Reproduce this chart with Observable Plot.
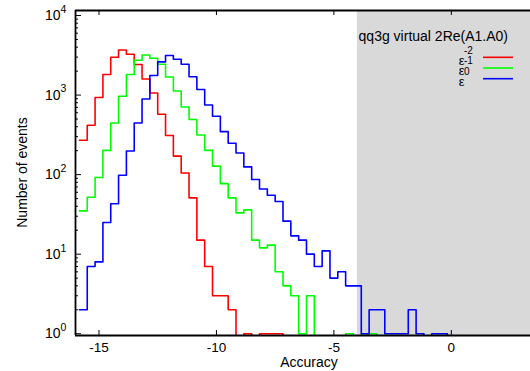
<!DOCTYPE html>
<html><head><meta charset="utf-8">
<script src="https://cdn.jsdelivr.net/npm/d3@7"></script>
<script src="https://cdn.jsdelivr.net/npm/@observablehq/plot@0.6"></script>
<style>body{margin:0;background:#fff} svg{display:block}</style>
</head><body><div id="chart"></div>
<script>
// ---- data ----
const binStart = -15.8333;
const binWidth = 1 / 3;
const redCounts   = [270, 417, 930, 1810, 2990, 3690, 3260, 2420, 1595, 1063, 573, 310, 171, 105, 51, 15, 7, 3, 3, 2, 0, 1, 0, 1, 1, 1, 0];
const greenCounts = [35, 52, 92, 202, 446, 966, 1810, 2740, 3190, 2900, 2440, 1690, 1127, 708, 492, 315, 202, 128, 77, 51, 33, 36, 15, 12, 13, 6, 4, 3, 1, 3, 0, 0, 0, 0, 1, 0, 1, 1, 0];
const blueCounts  = [2, 7, 8, 25, 43, 98, 198, 446, 893, 1760, 2610, 3140, 2820, 2440, 1700, 1173, 750, 541, 347, 248, 187, 125, 87, 66, 55, 46, 26, 17, 15, 10, 7, 11, 5, 6, 4, 4, 1, 2, 2, 1, 1, 1, 2, 1, 0, 1, 1, 0];
const seriesNames = ["eps-2", "eps-1", "eps0"];
const seriesColors = ["#ff0000", "#00ff00", "#0000ff"];
const legendExponents = ["-2", "-1", "0"];
const xTicks = [-15, -10, -5, 0];
const yTicks = [1, 10, 100, 1000, 10000];
const yTickExponents = ["0", "1", "2", "3", "4"];
const xDomain = [-16, 3.37];
const yDomain = [0.95, 11560];
const shadeFrom = -4;
const titleText = "qq3g virtual 2Re(A1.A0)";
const xLabel = "Accuracy";
const yLabel = "Number of events";

// ---- build ----
const yFloor = 0.3; // empty bins drawn below the axis (clipped)
const rows = [];
[redCounts, greenCounts, blueCounts].forEach((counts, s) => {
  counts.forEach((c, i) => rows.push({series: seriesNames[s], x: binStart + i * binWidth, y: c > 0 ? c : yFloor}));
});
const yMinor = [];
for (let d = 1; d < 10000; d *= 10) for (let m = 2; m <= 9; m++) yMinor.push(d * m);

const W = 530, H = 371, mL = 75, mR = 0, mT = 10, mB = 36;
const fw = W - mL - mR, fh = H - mT - mB;
const font = "'Liberation Sans', Arial, Helvetica, sans-serif";

const plot = Plot.plot({
  width: W, height: H, marginLeft: mL, marginRight: mR, marginTop: mT, marginBottom: mB,
  style: {fontFamily: font, fontSize: "14px", background: "#fff", color: "#000"},
  x: {domain: xDomain, axis: null},
  y: {type: "log", domain: yDomain, axis: null},
  color: {domain: seriesNames, range: seriesColors},
  marks: [
    Plot.rect([{x1: shadeFrom, x2: xDomain[1]}], {x1: "x1", x2: "x2", fill: "#d9d9d9"}),
    Plot.line(rows, {x: "x", y: "y", z: "series", stroke: "series", curve: "step-after", strokeWidth: 1.6, clip: true}),
    Plot.tickX(xTicks, {x: d => d, insetTop: fh - 5, stroke: "#000", strokeWidth: 1}),
    Plot.tickX(xTicks, {x: d => d, insetBottom: fh - 5, stroke: "#000", strokeWidth: 1}),
    Plot.tickY(yTicks, {y: d => d, insetRight: fw - 6, stroke: "#000", strokeWidth: 1}),
    Plot.tickY(yMinor, {y: d => d, insetRight: fw - 3, stroke: "#000", strokeWidth: 1}),
    Plot.ruleX([xDomain[0]], {stroke: "#000", strokeWidth: 1.8}),
    Plot.ruleY([yDomain[0]], {stroke: "#000", strokeWidth: 1.8}),
    Plot.ruleY([yDomain[1]], {stroke: "#000", strokeWidth: 1.8}),
    Plot.text(xTicks, {x: d => d, frameAnchor: "bottom", dy: 12.5, lineAnchor: "middle", text: d => String(d), fontSize: 13.5, fill: "#000"}),
    Plot.text(yTicks, {y: d => d, frameAnchor: "left", dx: -15, textAnchor: "end", lineAnchor: "middle", text: () => "10", fontSize: 14, fill: "#000"}),
    Plot.text(yTicks, {y: d => d, frameAnchor: "left", dx: -15, dy: -6, textAnchor: "start", lineAnchor: "middle", text: (d, i) => yTickExponents[i], fontSize: 10.5, fill: "#000"})
  ]
});

const svg = d3.select(plot);
svg.append("text").attr("x", 309).attr("y", 363.5).attr("text-anchor", "middle").attr("dominant-baseline", "middle")
  .attr("font-family", font).attr("font-size", 14).attr("fill", "#000").text(xLabel);
svg.append("text").attr("transform", "translate(23,172.5) rotate(-90)").attr("text-anchor", "middle").attr("dominant-baseline", "middle")
  .attr("font-family", font).attr("font-size", 14).attr("fill", "#000").text(yLabel);
svg.append("text").attr("x", 508).attr("y", 41).attr("text-anchor", "end")
  .attr("font-family", font).attr("font-size", 14).attr("fill", "#000").text(titleText);
legendExponents.forEach((e, i) => {
  const ly = 57.3 + i * 10.7;
  svg.append("line").attr("x1", 483).attr("x2", 513).attr("y1", ly).attr("y2", ly)
    .attr("stroke", seriesColors[i]).attr("stroke-width", 1.6);
  svg.append("text").attr("x", 464.5).attr("y", ly + 4).attr("text-anchor", "end").attr("dominant-baseline", "middle")
    .attr("font-family", font).attr("font-size", 13).attr("fill", "#000").text("ε");
  svg.append("text").attr("x", 464).attr("y", ly - 6.3).attr("text-anchor", "start").attr("dominant-baseline", "middle")
    .attr("font-family", font).attr("font-size", 10).attr("fill", "#000").text(e);
});

document.getElementById("chart").appendChild(plot);
</script>
</body></html>
